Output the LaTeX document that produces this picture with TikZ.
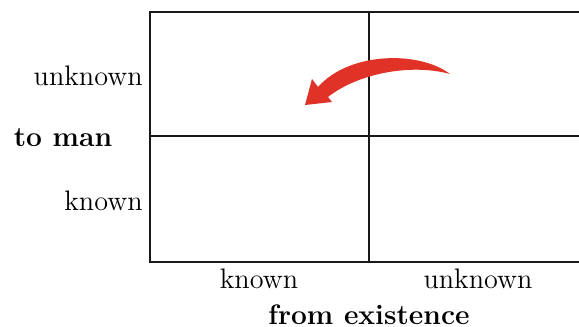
\documentclass[tikz,border=0pt]{standalone}
\begin{document}
\begin{tikzpicture}[x=0.5pt,y=-0.5pt,
  grid/.style={line width=1.3pt,draw=black!90},
  lbl/.style={inner sep=0pt,font=\fontsize{14.1}{16}\selectfont},
  blbl/.style={inner sep=0pt,font=\fontsize{14.1}{16}\selectfont\bfseries}]
\useasboundingbox (0,0) rectangle (579,327);
\coordinate (tl) at (150,12);
\coordinate (tr) at (580,12);
\coordinate (bl) at (150,262);
\coordinate (br) at (580,262);
\coordinate (ml) at (150,136);
\coordinate (mr) at (580,136);
\coordinate (mt) at (369,12);
\coordinate (mb) at (369,262);
\draw[grid] (tr) -- (tl) -- (bl) -- (br);
\draw[grid] (ml) -- (mr);
\draw[grid] (mt) -- (mb);
\node[lbl,anchor=east] (lu) at (143,76) {unknown};
\node[blbl] (lm) at (63,138) {to man};
\node[lbl,anchor=east] (lk) at (143,201) {known};
\node[lbl] (bk) at (259,279) {known};
\node[lbl] (bu) at (478,279) {unknown};
\node[blbl] (be) at (369,315) {from existence};
\fill[fill={rgb,255:red,224;green,50;blue,38}]
  (450,74) .. controls (420,51) and (350,51) .. (318,87)
  -- (312,79) -- (305,105) -- (332,102) -- (328,97)
  .. controls (357,74) and (410,63) .. (450,74) -- cycle;
\end{tikzpicture}
\end{document}
